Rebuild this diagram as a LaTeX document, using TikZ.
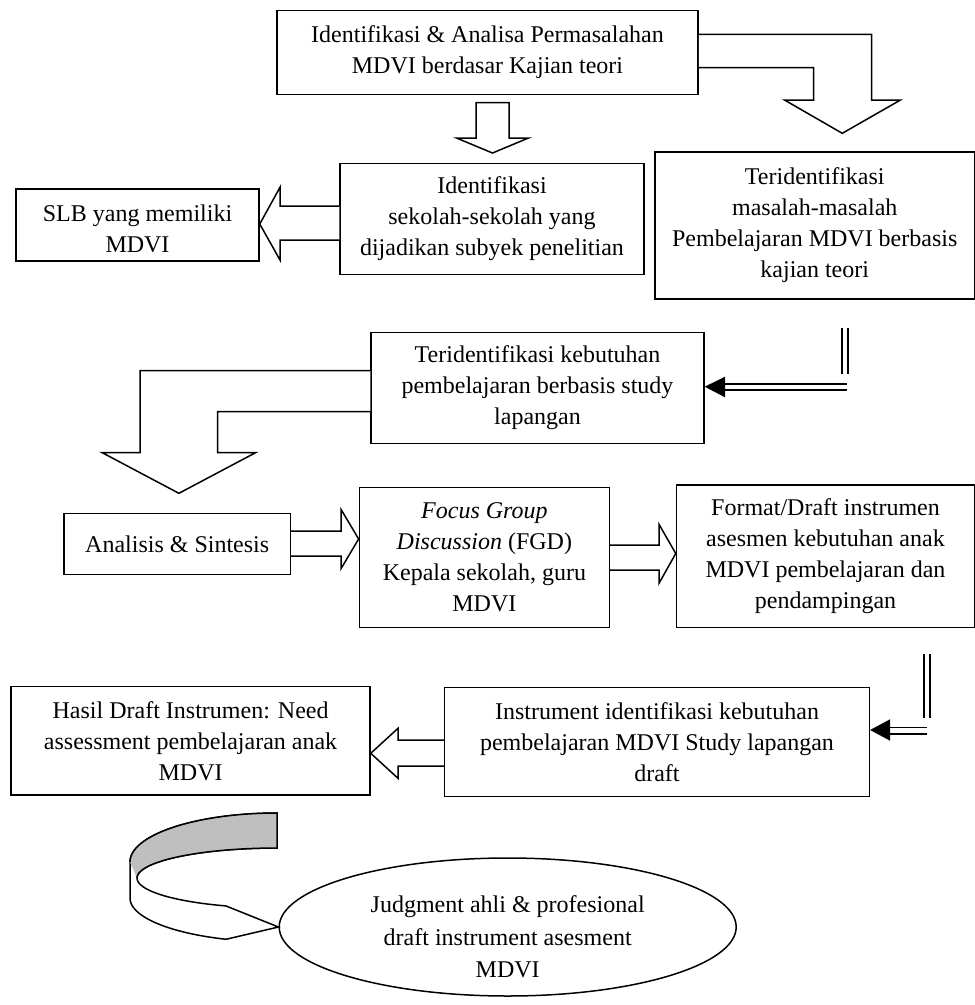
\documentclass[tikz,border=0pt]{standalone}
\usepackage{fontspec}
\setmainfont{Liberation Serif}
\usetikzlibrary{shapes.geometric}
\definecolor{ribbongray}{RGB}{191,191,191}
\begin{document}
\begin{tikzpicture}[x=1pt,y=-1pt,
  box/.style={draw, line width=1.5pt, align=center, inner sep=0pt, font=\fontsize{24}{31}\selectfont},
  txt/.style={align=center, inner sep=0pt, font=\fontsize{24}{31}\selectfont},
  blk/.style={draw, line width=1.5pt, fill=white, line join=miter},
  dbl/.style={draw, line width=1.8pt, double=white, double distance=4.4pt},
  headtip/.style={fill=black},
  rib/.style={line width=1.5pt, line join=miter}]
\useasboundingbox (0,0) rectangle (975,1005);

% boxes
\node[box, minimum width=421pt, minimum height=83.6pt] (top) at (487.5,52.5)
  {Identifikasi \& Analisa Permasalahan\\MDVI berdasar Kajian teori};
\node[box, minimum width=304pt, minimum height=111pt] (ident) at (492,219)
  {Identifikasi\\sekolah-sekolah yang\\dijadikan subyek penelitian};
\node[box, minimum width=243pt, minimum height=72pt] (slb) at (137.5,225) {};
\begin{scope}
  \clip (slb.north west) rectangle ([yshift=10pt]slb.south east);
  \node[txt] (slbtxt) at (137.5,228.5) {SLB yang memiliki\\MDVI};
\end{scope}
\node[box, minimum width=319.5pt, minimum height=147pt] (teri) at (814.75,225.5)
  {Teridentifikasi\\masalah-masalah\\Pembelajaran MDVI berbasis\\kajian teori};
\node[box, minimum width=333pt, minimum height=111pt] (kebut) at (537.5,387.8)
  {Teridentifikasi kebutuhan\\pembelajaran berbasis study\\lapangan};
\node[box, minimum width=226.4pt, minimum height=61pt] (anal) at (177.2,543.8)
  {Analisis \& Sintesis};
\node[box, minimum width=250pt, minimum height=140pt] (fgd) at (484.4,557.7)
  {\textit{Focus Group}\\\textit{Discussion} (FGD)\\Kepala sekolah, guru\\MDVI};
\node[box, minimum width=298pt, minimum height=142.7pt] (format) at (825.5,556.3)
  {Format/Draft instrumen\\asesmen kebutuhan anak\\MDVI pembelajaran dan\\pendampingan};
\node[box, minimum width=424.7pt, minimum height=109.2pt] (instr) at (657,742)
  {Instrument identifikasi kebutuhan\\pembelajaran MDVI Study lapangan\\draft};
\node[box, minimum width=358.8pt, minimum height=108.3pt] (hasil) at (190.6,740.8)
  {Hasil Draft Instrumen: Need\\assessment pembelajaran anak\\MDVI};
\node[draw, ellipse, line width=1.5pt, minimum width=457pt, minimum height=138pt, inner sep=0pt] (judg) at (507.7,927) {};
\node[txt, font=\fontsize{24}{32.5}\selectfont] (judgtxt) at (507.7,937)
  {Judgment ahli \& profesional\\draft instrument asesment\\MDVI};

% block arrows
\draw[blk] (476,102.7) -- (509,102.7) -- (509,138) -- (528.5,138) -- (492.5,153)
  -- (456.5,138) -- (476,138) -- cycle;
\draw[blk] (top.east |- 0,34.3) -- (871.6,34.3) -- (871.6,100) -- (900.5,100)
  -- (842.3,133.3) -- (784.5,100) -- (813.7,100) -- (813.7,67.7) -- (top.east |- 0,67.7);
\draw[blk] (ident.west |- 0,206) -- (280,206) -- (280,187.3) -- (slb.east |- 0,224)
  -- (280,260) -- (280,240) -- (ident.west |- 0,240);
\draw[blk] (kebut.west |- 0,370.7) -- (140.2,370.7) -- (140.2,452.7) -- (102.3,452.7)
  -- (178.9,493.3) -- (255.5,452.7) -- (217.7,452.7) -- (217.7,411.7) -- (kebut.west |- 0,411.7);
\draw[blk] (anal.east |- 0,531) -- (341,531) -- (341,509.3) -- (fgd.west |- 0,539)
  -- (341,568.7) -- (341,556) -- (anal.east |- 0,556);
\draw[blk] (fgd.east |- 0,545) -- (659,545) -- (659,524.3) -- (format.west |- 0,553.5)
  -- (659,583.3) -- (659,570) -- (fgd.east |- 0,570);
\draw[blk] (instr.west |- 0,740) -- (398,740) -- (398,728.3) -- (hasil.east |- 0,753.3)
  -- (398,778.3) -- (398,766) -- (instr.west |- 0,766);

% double-line arrows
\coordinate (d1s) at (845.2,327.7);
\coordinate (d1m) at (845.2,374);
\coordinate (d1h) at (847.3,386.7);
\draw[dbl] (d1s) -- (d1m);
\draw[dbl] (d1h) -- (725,386.7);
\fill[headtip] (725,376.7) -- (kebut.east |- 0,386.7) -- (725,397.3) -- cycle;

\coordinate (d2s) at (927.2,654);
\coordinate (d2m) at (927.2,718.3);
\coordinate (d2h) at (927.3,730.5);
\draw[dbl] (d2s) -- (d2m);
\draw[dbl] (d2h) -- (890,730.5);
\fill[headtip] (890,719.3) -- (instr.east |- 0,730) -- (890,740.7) -- cycle;

% curved ribbon arrow
\path[rib, fill=white, draw]
  (277,848) -- (277,813)
  -- plot[domain=90:180,samples=40] ({277+147*cos(\x)},{862-49*sin(\x)})
  -- plot[domain=180:249.7,samples=40] ({277+147*cos(\x)},{898-44*sin(\x)})
  -- (judg.west)
  -- plot[domain=248.6:90,samples=60] ({277+140*cos(\x)},{878-30*sin(\x)})
  -- cycle;
\fill[ribbongray]
  plot[domain=90:180,samples=40] ({277+147*cos(\x)},{862-49*sin(\x)})
  -- plot[domain=180:90,samples=40] ({277+140*cos(\x)},{878-30*sin(\x)})
  -- cycle;
\draw[rib] (277,848) -- (277,813)
  -- plot[domain=90:180,samples=40] ({277+147*cos(\x)},{862-49*sin(\x)});
\draw[rib] plot[domain=180:90,samples=40] ({277+140*cos(\x)},{878-30*sin(\x)});
\end{tikzpicture}
\end{document}
